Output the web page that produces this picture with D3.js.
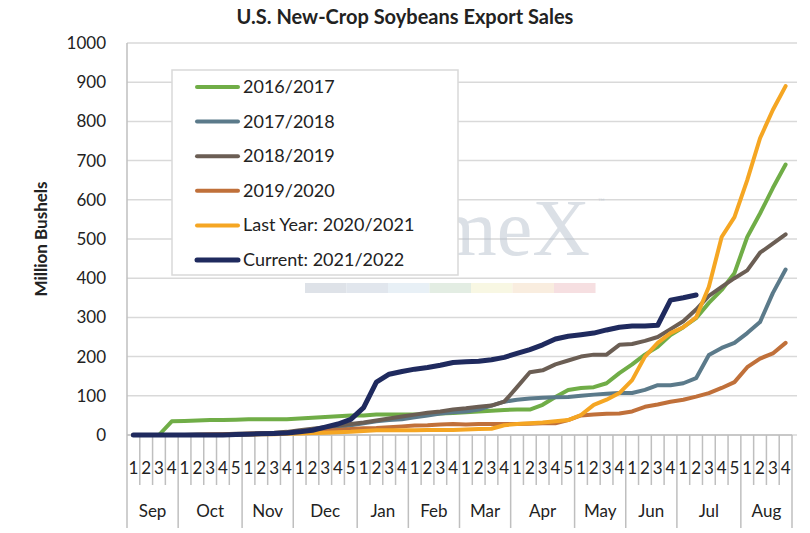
<!DOCTYPE html>
<html>
<head>
<script src="https://cdn.jsdelivr.net/npm/d3@7"></script>
<style>
  body { margin: 0; background: #fff; }
  text { font-family: Lato, "Open Sans", sans-serif; fill: #222; }
</style>
</head>
<body>
<div id="chart"></div>
<script>
  // weeks per month, Sep..Aug
  var months = ["Sep","Oct","Nov","Dec","Jan","Feb","Mar","Apr","May","Jun","Jul","Aug"];
  var weeksPerMonth = [4,5,4,5,4,4,4,5,4,4,5,4];
  var yTicks = [0,100,200,300,400,500,600,700,800,900,1000];

  var s1617 = [0,0,0,35,36,37,38,38,39,40,40,40,40,42,44,46,48,50,50,52,52,52,52,53,55,56,58,60,62,64,65,65,77,97,115,120,122,132,158,180,205,225,255,275,298,337,370,413,505,565,630,690];
  var s1718 = [0,0,0,0,0,0,0,0,1,2,3,4,5,8,12,16,20,25,30,35,38,40,45,50,55,58,60,65,75,85,90,93,95,96,97,100,103,105,107,107,115,127,127,132,145,204,222,235,260,288,362,422];
  var s1819 = [0,0,0,0,0,1,1,2,3,4,5,6,8,12,16,20,24,28,32,37,42,47,52,57,60,65,68,72,75,85,122,160,165,180,190,200,205,205,230,232,240,250,270,290,320,355,378,400,420,465,488,512];
  var s1920 = [0,0,0,0,0,0,1,1,2,3,3,4,5,7,9,11,13,15,17,18,20,22,24,25,27,28,27,28,28,28,28,29,30,30,38,50,52,54,55,60,72,78,85,90,98,107,120,135,173,195,208,235];
  var s2021 = [0,0,0,0,0,0,0,0,1,1,2,2,3,4,5,6,7,8,10,12,12,12,12,13,13,13,14,15,16,25,28,30,32,35,38,51,77,90,107,140,200,235,260,275,300,378,505,556,650,757,829,890];
  var s2122 = [0,0,0,0,0,0,0,0,1,2,3,4,5,8,12,20,28,40,70,135,155,162,168,172,178,185,187,188,192,198,208,218,230,245,252,256,260,268,275,278,278,280,344,350,357];

  var seriesNames = ["2016/2017","2017/2018","2018/2019","2019/2020","Last Year: 2020/2021","Current: 2021/2022"];
  var seriesColors = ["#70ad47","#5b7a8a","#6b5e54","#c0703a","#f5a623","#1f2a5e"];
  var seriesValues = [s1617,s1718,s1819,s1920,s2021,s2122];

  var W = 810, H = 533;
  var plotLeft = 127, plotRight = 792, plotTop = 43, plotBottom = 435;

  var svg = d3.select("#chart").append("svg").attr("width", W).attr("height", H);

  // build week list
  var weeks = [];
  months.forEach(function(m, mi){
    for (var k = 1; k <= weeksPerMonth[mi]; k++) weeks.push({month: m, week: k, idx: weeks.length});
  });

  var x = d3.scaleBand().domain(weeks.map(function(d){ return d.idx; })).range([plotLeft, plotRight]);
  var y = d3.scaleLinear().domain([0, 1000]).range([plotBottom, plotTop]);

  // title
  svg.append("text").attr("x", 405).attr("y", 24).attr("text-anchor", "middle")
    .style("font-size", "20px").style("font-weight", "bold").text("U.S. New-Crop Soybeans Export Sales");

  // gridlines
  svg.append("g").selectAll("line").data(yTicks).enter().append("line")
    .attr("x1", plotLeft).attr("x2", plotRight + 5)
    .attr("y1", function(d){ return y(d); }).attr("y2", function(d){ return y(d); })
    .attr("stroke", "#d9d9d9").attr("stroke-width", 1.5);

  svg.append("g").selectAll("text").data(yTicks).enter().append("text")
    .attr("x", 106).attr("y", function(d){ return y(d) + 6; })
    .attr("text-anchor", "end").style("font-size", "17px").text(function(d){ return d; });

  svg.append("text").attr("transform", "translate(47," + ((plotTop + plotBottom) / 2) + ") rotate(-90)")
    .attr("text-anchor", "middle").style("font-size", "17px").style("font-weight", "bold").text("Million Bushels");

  // watermark
  var wm = svg.append("g").attr("opacity", 0.5);
  wm.append("text").attr("x", 590).attr("y", 255).attr("text-anchor", "end")
    .style("font-family", "'Liberation Serif', serif").style("font-size", "80px").style("fill", "#b8c2cf").text("meX");
  wm.append("text").attr("x", 598).attr("y", 205).style("font-size", "9px").style("fill", "#b8c2cf").text("™");
  var wmColors = ["#bfc7d2","#c4cfdc","#d3e3ee","#c8dcc8","#f3f0c8","#f5dcc0","#efc0c4"];
  wm.selectAll("rect").data(wmColors).enter().append("rect")
    .attr("x", function(d, i){ return 305 + i * 41.5; }).attr("y", 283).attr("width", 41.5).attr("height", 10)
    .attr("fill", function(d){ return d; });

  // x axis
  var ax = svg.append("g");
  ax.append("line").attr("x1", plotLeft).attr("x2", plotLeft).attr("y1", plotTop).attr("y2", plotBottom).attr("stroke", "#bfbfbf").attr("stroke-width", 1.5);
  ax.append("line").attr("x1", plotLeft).attr("x2", plotRight).attr("y1", plotBottom).attr("y2", plotBottom).attr("stroke", "#bfbfbf").attr("stroke-width", 1.5);
  ax.selectAll(".wt").data(weeks).enter().append("line")
    .attr("x1", function(d){ return x(d.idx) + x.bandwidth(); }).attr("x2", function(d){ return x(d.idx) + x.bandwidth(); })
    .attr("y1", plotBottom).attr("y2", function(d){ return d.week === weeksPerMonth[months.indexOf(d.month)] ? 528 : 485; })
    .attr("stroke", "#bfbfbf").attr("stroke-width", 1.5);
  ax.append("line").attr("x1", plotLeft).attr("x2", plotLeft).attr("y1", plotBottom).attr("y2", 528).attr("stroke", "#bfbfbf").attr("stroke-width", 1.5);
  ax.selectAll(".wl").data(weeks).enter().append("text")
    .attr("x", function(d){ return x(d.idx) + x.bandwidth() / 2; }).attr("y", 474)
    .attr("text-anchor", "middle").style("font-size", "17px").text(function(d){ return d.week; });
  var start = 0;
  months.forEach(function(m, mi){
    var a = x(start), b = x(start + weeksPerMonth[mi] - 1) + x.bandwidth();
    ax.append("text").attr("x", (a + b) / 2).attr("y", 517).attr("text-anchor", "middle")
      .style("font-size", "17px").text(m);
    start += weeksPerMonth[mi];
  });

  // lines
  var line = d3.line()
    .x(function(d, i){ return x(i) + x.bandwidth() / 2; })
    .y(function(d){ return y(d); });
  svg.append("g").selectAll("path").data(seriesValues).enter().append("path")
    .attr("d", line).attr("fill", "none")
    .attr("stroke", function(d, i){ return seriesColors[i]; })
    .attr("stroke-width", function(d, i){ return i === 5 ? 5 : 4; })
    .attr("stroke-linejoin", "round").attr("stroke-linecap", "round");

  // legend
  var lg = svg.append("g");
  lg.append("rect").attr("x", 172).attr("y", 70).attr("width", 286).attr("height", 205)
    .attr("fill", "#fff").attr("stroke", "#d9d9d9").attr("stroke-width", 1.5);
  seriesNames.forEach(function(n, i){
    var yy = 87 + i * 34.6;
    lg.append("line").attr("x1", 197).attr("x2", 238).attr("y1", yy).attr("y2", yy)
      .attr("stroke", seriesColors[i]).attr("stroke-width", i === 5 ? 5 : 4).attr("stroke-linecap", "round");
    lg.append("text").attr("x", 243).attr("y", yy + 6).style("font-size", "18px").text(n);
  });
</script>
</body>
</html>
